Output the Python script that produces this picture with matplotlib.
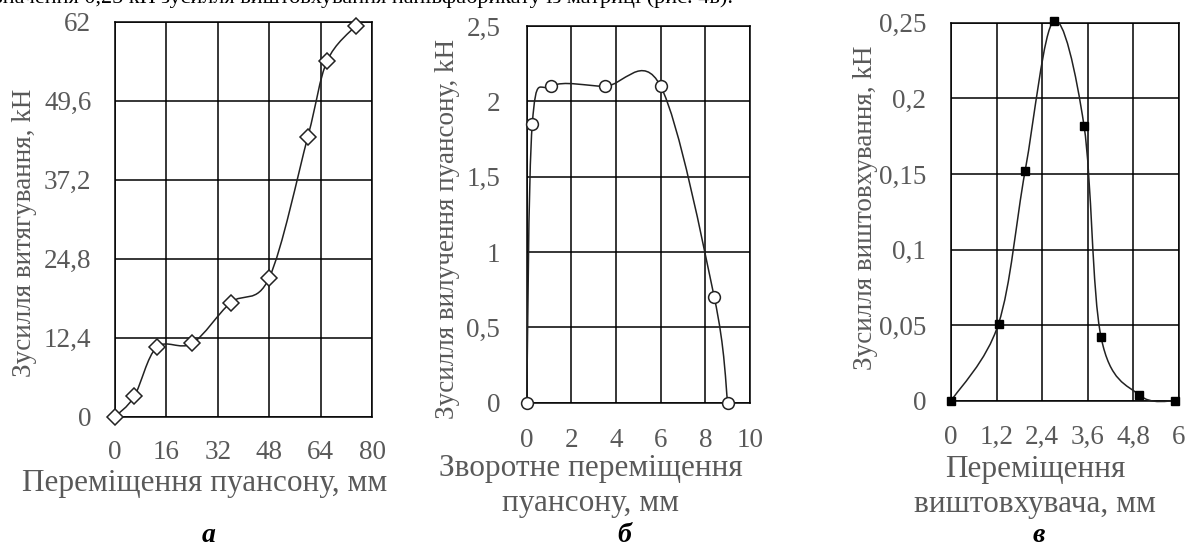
import matplotlib
matplotlib.use("Agg")
import matplotlib.pyplot as plt
import numpy as np
from matplotlib.path import Path
from matplotlib.patches import PathPatch

plt.rcParams['font.family'] = ['Liberation Serif', 'DejaVu Serif']

# chart a: drawing force vs punch travel
a_x = [0, 6, 13, 24, 36, 48, 60, 66, 75]
a_y = [0, 3.2, 10.9, 11.5, 17.9, 21.8, 43.9, 55.8, 61.4]
a_xticks = [0, 16, 32, 48, 64, 80]
a_yticks = [0, 12.4, 24.8, 37.2, 49.6, 62]
a_yticklabels = ['0', '12,4', '24,8', '37,2', '49,6', '62']

# chart b: punch extraction force vs return travel
b_x = [0, 0.25, 1.1, 3.5, 6.0, 8.4, 9.0]
b_y = [0, 1.85, 2.1, 2.1, 2.1, 0.7, 0]
b_xticks = [0, 2, 4, 6, 8, 10]
b_yticks = [0, 0.5, 1, 1.5, 2, 2.5]
b_yticklabels = ['0', '0,5', '1', '1,5', '2', '2,5']

# chart c: ejection force vs ejector travel
c_x = [0, 1.25, 1.95, 2.7, 3.5, 3.95, 4.95, 5.9]
c_y = [0, 0.051, 0.152, 0.251, 0.182, 0.042, 0.004, 0]
c_xticks = [0, 1.2, 2.4, 3.6, 4.8, 6]
c_xticklabels = ['0', '1,2', '2,4', '3,6', '4,8', '6']
c_yticks = [0, 0.05, 0.1, 0.15, 0.2, 0.25]
c_yticklabels = ['0', '0,05', '0,1', '0,15', '0,2', '0,25']

W, H = 1191, 549
GRAY = '#595959'
TICK_FS = 19.5
XLAB_FS = 22.5
YLAB_FS = 19.5


def smooth_path(x, y):
    """Excel-like smoothed line: Catmull-Rom segments as cubic Beziers."""
    p = np.column_stack([x, y]).astype(float)
    n = len(p)
    verts = [p[0]]
    codes = [Path.MOVETO]
    for i in range(n - 1):
        p0 = p[i - 1] if i > 0 else p[i]
        p1, p2 = p[i], p[i + 1]
        p3 = p[i + 2] if i + 2 < n else p[i + 1]
        c1 = p1 + (p2 - p0) / 6
        c2 = p2 - (p3 - p1) / 6
        verts += [c1, c2, p2]
        codes += [Path.CURVE4] * 3
    return Path(verts, codes)


def px_axes(left, top, right, bottom):
    return fig.add_axes([left / W, 1 - bottom / H, (right - left) / W, (bottom - top) / H])


def style(ax, xticks, yticks, xlabels, ylabels, xlim, ylim, xpad, ypad):
    ax.set_xlim(*xlim)
    ax.set_ylim(*ylim)
    ax.set_xticks(xticks)
    ax.set_yticks(yticks)
    ax.set_xticklabels(xlabels)
    ax.set_yticklabels(ylabels)
    ax.tick_params(length=0, labelsize=TICK_FS, labelcolor=GRAY)
    ax.tick_params(axis='x', pad=xpad)
    ax.tick_params(axis='y', pad=ypad)
    ax.grid(True, color='black', linewidth=1.1)
    for s in ax.spines.values():
        s.set_color('black')
        s.set_linewidth(1.1)
    ax.set_axisbelow(True)


def draw(ax, x, y, **mk):
    ax.add_patch(PathPatch(smooth_path(x, y), facecolor='none', edgecolor='#222222',
                           linewidth=1.1, zorder=3, clip_on=False))
    ax.plot(x, y, linestyle='none', zorder=4, clip_on=False, **mk)


fig = plt.figure(figsize=(W / 100, H / 100), dpi=100)

# --- a ---
ax1 = px_axes(115, 21.7, 372, 416.7)
style(ax1, a_xticks, a_yticks, [str(t) for t in a_xticks], a_yticklabels,
      (0, 80), (0, 62), 17, 17)
draw(ax1, a_x, a_y, marker='D', markersize=8, markerfacecolor='white',
     markeredgecolor='#222222', markeredgewidth=1.1)
ax1.set_ylabel('Зусилля витягування, kH', fontsize=YLAB_FS, color=GRAY, va='center')
ax1.yaxis.set_label_coords((25 - 115) / 257, (416.7 - 233) / 395)
ax1.set_xlabel('Переміщення пуансону, мм', fontsize=XLAB_FS, color=GRAY, va='center')
ax1.xaxis.set_label_coords((205 - 115) / 257, (416.7 - 483) / 395)

# --- b ---
ax2 = px_axes(526.7, 26, 750, 402.7)
style(ax2, b_xticks, b_yticks, [str(t) for t in b_xticks], b_yticklabels,
      (0, 10), (0, 2.5), 18, 19)
draw(ax2, b_x, b_y, marker='o', markersize=8.5, markerfacecolor='white',
     markeredgecolor='#222222', markeredgewidth=1.1)
ax2.set_ylabel('Зусилля вилучення пуансону, kH', fontsize=YLAB_FS, color=GRAY, va='center')
ax2.yaxis.set_label_coords((447 - 526.7) / 223.3, (402.7 - 229) / 376.7)
ax2.set_xlabel('Зворотне переміщення\nпуансону, мм', fontsize=XLAB_FS, color=GRAY,
               va='center', linespacing=1.3)
ax2.xaxis.set_label_coords((591 - 526.7) / 223.3, (402.7 - 486) / 376.7)

# --- c ---
ax3 = px_axes(951, 22.7, 1179, 401)
style(ax3, c_xticks, c_yticks, c_xticklabels, c_yticklabels,
      (0, 6), (0, 0.25), 17, 18)
draw(ax3, c_x, c_y, marker='s', markersize=6, markerfacecolor='black',
     markeredgecolor='black')
ax3.set_ylabel('Зусилля виштовхування, kH', fontsize=YLAB_FS, color=GRAY, va='center')
ax3.yaxis.set_label_coords((866 - 951) / 228, (401 - 208) / 378.3)
ax3.set_xlabel('Переміщення\nвиштовхувача, мм', fontsize=XLAB_FS, color=GRAY,
               va='center', linespacing=1.3)
ax3.xaxis.set_label_coords((1035 - 951) / 228, (401 - 487) / 378.3)

# panel letters
for xc, letter in [(209, 'а'), (624, 'б'), (1039, 'в')]:
    fig.text(xc / W, 1 - 548 / H, letter, fontsize=20, fontweight='bold',
             fontstyle='italic', ha='center', va='bottom')

# clipped line of body text above the figure
fig.text(-6 / W, 1 - 3 / H, 'значення 0,25 кН зусилля виштовхування напівфабрикату із матриці (рис. 4в).',
         fontsize=16, ha='left', va='baseline')

fig.savefig('out.png', dpi=100)
